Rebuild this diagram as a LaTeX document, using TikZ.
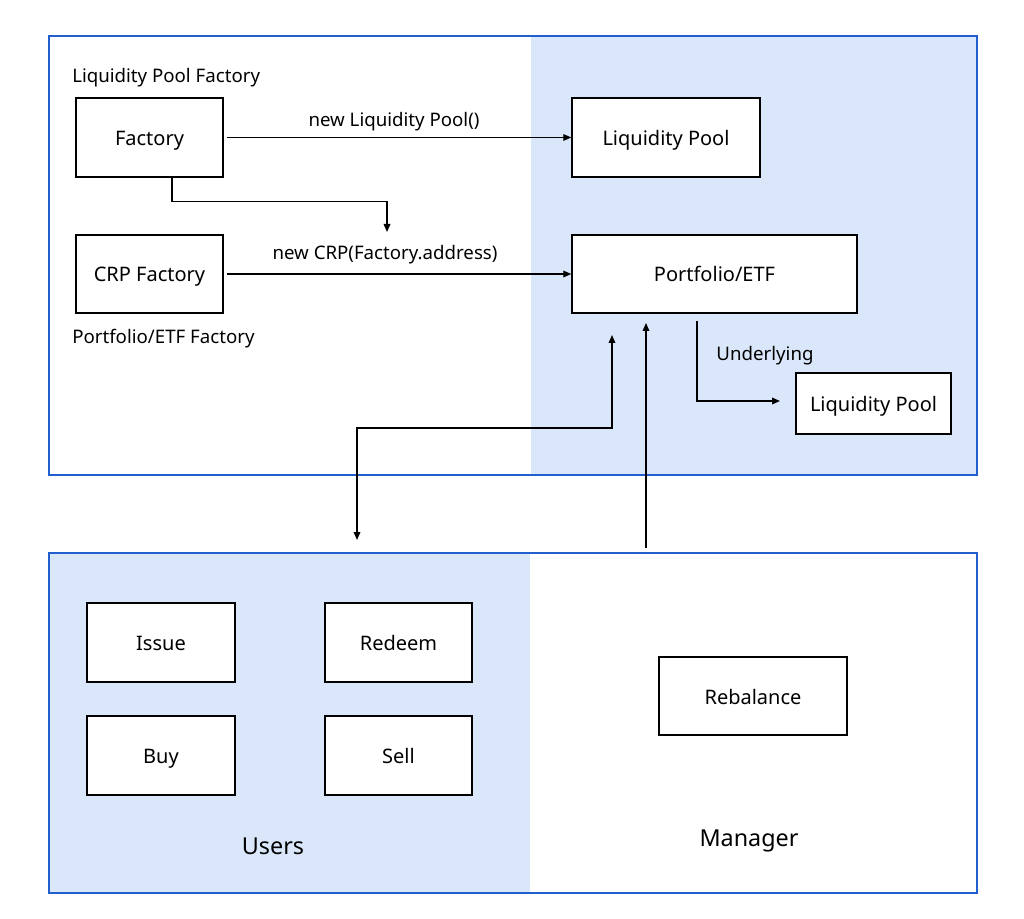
\documentclass[tikz,border=0pt]{standalone}
\usepackage{fontspec}
\setmainfont{Noto Sans}
\usetikzlibrary{arrows.meta}
\definecolor{pblue}{RGB}{33,94,206}
\definecolor{pfill}{RGB}{218,231,250}
\begin{document}
\begin{tikzpicture}[x=0.75pt,y=-0.75pt,
  box/.style={draw=black, line width=1.1pt, fill=white, inner sep=0pt, text height=12pt, text depth=0pt, font=\fontsize{15}{18}\selectfont},
  lbl/.style={inner sep=0pt, yshift=-2.25pt, font=\fontsize{14}{17}\selectfont},
  big/.style={inner sep=0pt, font=\fontsize{17.5}{21}\selectfont},
  conn/.style={line width=0.9pt, -{Triangle[length=6pt,width=5pt]}},
  conn2/.style={line width=0.9pt, {Triangle[length=6pt,width=5pt]}-{Triangle[length=6pt,width=5pt]}},
  panel/.style={draw=pblue, line width=1.5pt}]
\useasboundingbox (0,0) rectangle (1024,919);
\fill[white] (0,0) rectangle (1024,919);
% panels
\fill[pfill] (531,37) rectangle (977,475);
\draw[panel] (49,36) rectangle (977,475);
\fill[pfill] (49,553) rectangle (530,893);
\draw[panel] (49,553) rectangle (977,893);
% boxes
\node[box, minimum width=110.25pt, minimum height=59.25pt] (fac) at (149.5,137.5) {Factory};
\node[box, minimum width=110.25pt, minimum height=58.5pt] (crpf) at (149.5,274) {CRP Factory};
\node[box, minimum width=141pt, minimum height=59.25pt] (lp1) at (666,137.5) {Liquidity Pool};
\node[box, minimum width=213.75pt, minimum height=58.5pt] (etf) at (714.5,274) {Portfolio/ETF};
\node[box, minimum width=116.25pt, minimum height=45.75pt] (lp2) at (873.5,403.5) {Liquidity Pool};
\node[box, minimum width=111pt, minimum height=59.25pt] (issue) at (161,642.5) {Issue};
\node[box, minimum width=110.25pt, minimum height=59.25pt] (redeem) at (398.5,642.5) {Redeem};
\node[box, minimum width=111pt, minimum height=59.25pt] (buy) at (161,755.5) {Buy};
\node[box, minimum width=110.25pt, minimum height=59.25pt] (sell) at (398.5,755.5) {Sell};
\node[box, minimum width=141pt, minimum height=58.5pt] (rebal) at (753,696) {Rebalance};
% labels
\node[lbl, anchor=west] (lpfl) at (72,75) {Liquidity Pool Factory};
\node[lbl, anchor=west] (etffl) at (72,336) {Portfolio/ETF Factory};
\node[lbl] (newlp) at (394,119) {new Liquidity Pool()};
\node[lbl] (newcrp) at (385,252) {new CRP(Factory.address)};
\node[lbl] (under) at (765,353) {Underlying};
\node[big] (users) at (273,846) {Users};
\node[big] (manager) at (749,841) {Manager};
% coordinates
\coordinate (fx) at (172,0);
\coordinate (crpin) at (387,232);
\coordinate (u0) at (697,321);
\coordinate (u1) at (780,401);
\coordinate (ua) at (357,540);
\coordinate (ub) at (612,335);
\coordinate (m0) at (646,548);
\coordinate (m1) at (646,323);
% connectors
\draw[conn] ([xshift=2.25pt]fac.east) -- (lp1.west);
\draw[conn] ([xshift=2.25pt]crpf.east) -- (etf.west);
\draw[conn] (fac.south -| fx) -- ++(0,24) -| (crpin);
\draw[conn] (u0) |- (u1);
\draw[conn2] (ua) -- ++(0,-112) -| (ub);
\draw[conn] (m0) -- (m1);
\end{tikzpicture}
\end{document}
